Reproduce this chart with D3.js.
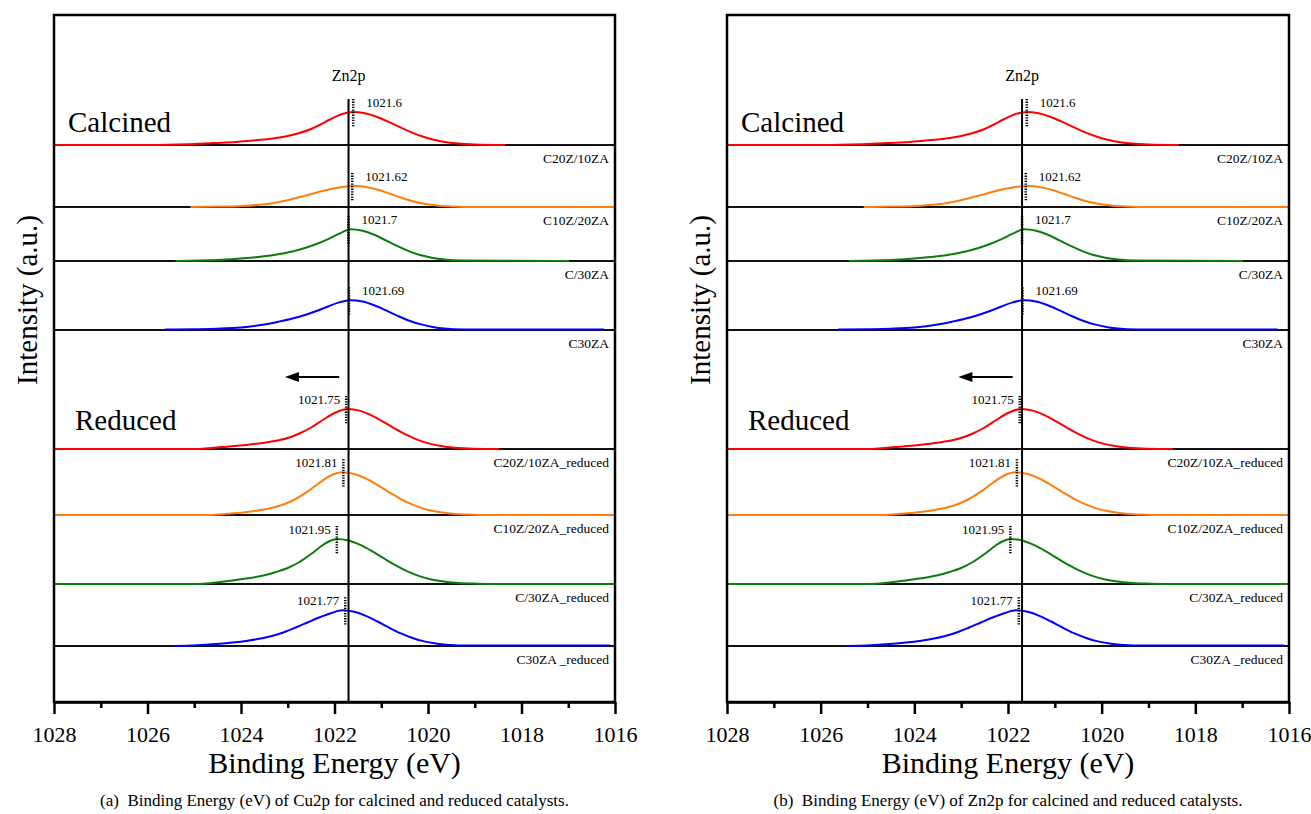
<!DOCTYPE html>
<html>
<head>
<meta charset="utf-8">
<script src="https://cdn.jsdelivr.net/npm/d3@7"></script>
<style>
    body { margin: 0; background: #fff; }
    svg text { font-family: "Liberation Serif", Tinos, "Times New Roman", Times, serif; fill: #000; }
</style>
</head>
<body>
<div class="xps-chart"></div>
<script>
const width = 1311;
const height = 814;

// binding energy axis (eV)
const energyDomain = [1028, 1016];
const majorTicks = [1028, 1026, 1024, 1022, 1020, 1018, 1016];
const minorTicks = [1027, 1025, 1023, 1021, 1019, 1017];

// stacked Zn2p spectra, top to bottom
const sampleNames = [
    "C20Z/10ZA", "C10Z/20ZA", "C/30ZA", "C30ZA",
    "C20Z/10ZA_reduced", "C10Z/20ZA_reduced", "C/30ZA_reduced", "C30ZA _reduced"
];
const peakPositions = [1021.6, 1021.62, 1021.7, 1021.69, 1021.75, 1021.81, 1021.95, 1021.77];
const peakLabels = ["1021.6", "1021.62", "1021.7", "1021.69", "1021.75", "1021.81", "1021.95", "1021.77"];
const stackOffsets = [557, 495, 441, 372, 253, 187, 118, 56];
const referenceEnergy = 1021.7;
const shiftArrow = [1021.9, 1023.06];
const shiftArrowLevel = 325;

// intensity above each offset, [binding energy, a.u.], high to low energy
const calcinedA = [[1028, 0], [1026.2, 0], [1025.6, 0.3], [1025.0, 1], [1024.6, 2], [1024.1, 3], [1023.75, 4.5],
    [1023.4, 6], [1023.0, 9], [1022.75, 12], [1022.5, 16], [1022.3, 20.5], [1022.1, 25.5], [1021.85, 30.8],
    [1021.6, 33], [1021.35, 31.7], [1021.1, 28.3], [1020.85, 23.3], [1020.6, 17.8], [1020.35, 12.6],
    [1020.1, 8.2], [1019.85, 5.0], [1019.6, 2.8], [1019.35, 1.4], [1019.0, 0.5], [1018.35, 0]];
const calcinedB = [[1025.08, 0], [1024.5, 0.4], [1024.0, 1.0], [1023.6, 2.2], [1023.3, 4.0], [1023.05, 6.3],
    [1022.8, 9.2], [1022.55, 12.3], [1022.3, 15.5], [1022.05, 18.2], [1021.8, 20.3], [1021.55, 21],
    [1021.3, 19.8], [1021.05, 17], [1020.8, 13], [1020.55, 9], [1020.3, 5.5], [1020.05, 3.0],
    [1019.8, 1.5], [1019.5, 0.6], [1019.18, 0], [1016, 0]];
const calcinedC = [[1025.4, 0], [1024.5, 1.0], [1023.94, 2.7], [1023.55, 4.5], [1023.2, 6.8], [1022.9, 9.5],
    [1022.65, 12.7], [1022.4, 16.7], [1022.15, 21.7], [1021.9, 27.3], [1021.65, 31.7], [1021.4, 30.2],
    [1021.15, 26.2], [1020.9, 20.6], [1020.65, 14.8], [1020.4, 9.6], [1020.15, 5.7], [1019.9, 3.1],
    [1019.65, 1.5], [1019.25, 0.4], [1016.98, 0]];
const calcinedD = [[1025.63, 0.5], [1025.0, 0.8], [1024.5, 1.3], [1024.0, 2.5], [1023.5, 5.5], [1023.2, 8.3],
    [1022.9, 11.5], [1022.65, 14.8], [1022.4, 18.7], [1022.15, 23.3], [1021.9, 27.6], [1021.65, 29.7],
    [1021.4, 28.4], [1021.15, 24.7], [1020.9, 19.6], [1020.65, 14.2], [1020.4, 9.3], [1020.15, 5.6],
    [1019.9, 3.1], [1019.65, 1.5], [1019.25, 0.6], [1018.5, 0.5], [1016.24, 0.5]];
const reducedA = [[1028, 0], [1025.0, 0], [1024.4, 2], [1023.8, 4.5], [1023.4, 7], [1023.0, 11],
    [1022.75, 15.5], [1022.5, 21.5], [1022.25, 29], [1022.0, 36], [1021.72, 40], [1021.47, 38.4],
    [1021.22, 33.9], [1020.97, 27.6], [1020.72, 20.7], [1020.47, 14.3], [1020.22, 9.1], [1019.97, 5.4],
    [1019.72, 2.9], [1019.42, 1.2], [1019.02, 0.3], [1018.48, 0]];
const reducedB = [[1028, 0], [1024.65, 0], [1024.3, 1.2], [1024.0, 2.3], [1023.6, 4.8], [1023.33, 7.3],
    [1023.08, 10.8], [1022.83, 16], [1022.58, 23.3], [1022.33, 32], [1022.08, 39.5], [1021.83, 42.7],
    [1021.58, 41], [1021.33, 36.5], [1021.08, 29.9], [1020.83, 22.7], [1020.58, 15.9], [1020.33, 10.3],
    [1020.08, 6.1], [1019.83, 3.4], [1019.53, 1.5], [1019.18, 0.5], [1018.87, 0], [1016, 0]];
const reducedC = [[1028, 0], [1024.99, 0], [1024.45, 2], [1024.0, 4.7], [1023.5, 8.8], [1023.25, 12],
    [1023.0, 16], [1022.75, 22], [1022.5, 30], [1022.25, 39], [1022.1, 43], [1021.95, 45], [1021.7, 43.5],
    [1021.45, 39.1], [1021.2, 32.9], [1020.95, 25.8], [1020.7, 18.8], [1020.45, 12.8], [1020.2, 8.1],
    [1019.95, 4.8], [1019.7, 2.7], [1019.35, 1.0], [1018.95, 0.3], [1018.5, 0], [1016, 0]];
const reducedD = [[1025.45, 0], [1024.93, 0.8], [1024.45, 2.3], [1023.9, 5], [1023.36, 9.7], [1023.08, 13.8],
    [1022.83, 18.5], [1022.58, 23.5], [1022.33, 28.5], [1022.08, 32.8], [1021.83, 35.7], [1021.58, 34.2],
    [1021.33, 30.2], [1021.08, 24.5], [1020.83, 18.3], [1020.58, 12.6], [1020.33, 8], [1020.08, 4.6],
    [1019.83, 2.5], [1019.53, 1.0], [1019.13, 0.5], [1018.5, 0.5], [1016.1, 0.5]];
const spectra = [calcinedA, calcinedB, calcinedC, calcinedD, reducedA, reducedB, reducedC, reducedD];

const lineColors = ["#ff0000", "#ff7f0e", "#0a7d0a", "#0000ff", "#ff0000", "#ff7f0e", "#0a7d0a", "#0000ff"];
const serif = "'Liberation Serif', Tinos, 'Times New Roman', Times, serif";

const svg = d3.select(".xps-chart")
    .append("svg")
    .attr("width", width)
    .attr("height", height)
    .attr("font-family", serif);

svg.append("rect").attr("width", width).attr("height", height).attr("fill", "#fff");

const yScale = d3.scaleLinear().domain([0, 687]).range([702, 15]);

function drawPanel(left, right, caption) {
    const x = d3.scaleLinear().domain(energyDomain).range([left, right]);
    const g = svg.append("g");

    // row baselines
    g.selectAll(".baseline")
        .data(stackOffsets)
        .enter()
        .append("line")
        .attr("x1", left).attr("x2", right)
        .attr("y1", (d) => yScale(d)).attr("y2", (d) => yScale(d))
        .attr("stroke", "#111").attr("stroke-width", 2);

    // spectra
    const line = d3.line().curve(d3.curveMonotoneX);
    g.selectAll(".spectrum")
        .data(spectra)
        .enter()
        .append("path")
        .attr("d", (d, i) => line(d.map((p) => [x(p[0]), yScale(stackOffsets[i] + p[1])])))
        .attr("fill", "none")
        .attr("stroke", (d, i) => lineColors[i])
        .attr("stroke-width", 2);

    // reference energy line
    const peakTop = (i) => yScale(stackOffsets[i] + d3.max(spectra[i], (p) => p[1]));
    g.append("line")
        .attr("x1", x(referenceEnergy)).attr("x2", x(referenceEnergy))
        .attr("y1", peakTop(0) - 13).attr("y2", yScale(0))
        .attr("stroke", "#000").attr("stroke-width", 2);

    g.append("text")
        .attr("x", x(referenceEnergy)).attr("y", peakTop(0) - 31)
        .attr("text-anchor", "middle")
        .attr("font-size", 16)
        .text("Zn2p");

    // peak markers and values
    peakPositions.forEach((pos, i) => {
        const top = peakTop(i) - 13;
        g.append("line")
            .attr("x1", x(pos)).attr("x2", x(pos))
            .attr("y1", top).attr("y2", top + 28)
            .attr("stroke", "#000").attr("stroke-width", 2.5)
            .attr("stroke-dasharray", "1.3 1.3");
        const calcined = i < 4;
        g.append("text")
            .attr("x", calcined ? x(pos) + 13 : x(pos) - 6)
            .attr("y", top + 8)
            .attr("text-anchor", calcined ? "start" : "end")
            .attr("font-size", 13)
            .text(peakLabels[i]);
    });

    // sample names below each baseline
    g.selectAll(".sample")
        .data(sampleNames)
        .enter()
        .append("text")
        .attr("x", right - 6)
        .attr("y", (d, i) => yScale(stackOffsets[i]) + 18)
        .attr("text-anchor", "end")
        .attr("font-size", 13.5)
        .text((d) => d);

    // shift arrow
    const ay = yScale(shiftArrowLevel);
    g.append("line")
        .attr("x1", x(shiftArrow[0])).attr("x2", x(shiftArrow[1]) + 10)
        .attr("y1", ay).attr("y2", ay)
        .attr("stroke", "#000").attr("stroke-width", 2);
    g.append("path")
        .attr("d", `M${x(shiftArrow[1])},${ay} l14,-5 l0,10 z`)
        .attr("fill", "#000");

    g.append("text").attr("x", left + 14).attr("y", 132)
        .attr("font-size", 29).text("Calcined");
    g.append("text").attr("x", left + 21).attr("y", 430)
        .attr("font-size", 29).text("Reduced");

    // frame
    g.append("rect")
        .attr("x", left).attr("y", yScale(687))
        .attr("width", right - left).attr("height", yScale(0) - yScale(687))
        .attr("fill", "none").attr("stroke", "#000").attr("stroke-width", 2.5);

    // x axis
    const axis = g.append("g")
        .attr("transform", `translate(0,${yScale(0)})`)
        .call(d3.axisBottom(x).tickValues(majorTicks).tickSize(12).tickSizeOuter(0)
            .tickFormat(d3.format("d")));
    axis.attr("font-family", serif);
    axis.select(".domain").attr("stroke-width", 2.5);
    axis.selectAll(".tick line").attr("stroke-width", 2.5);
    axis.selectAll(".tick text")
        .attr("y", 32).attr("dy", "0.35em")
        .attr("font-size", 22)
        .attr("fill", "#000");

    const minor = g.append("g")
        .attr("transform", `translate(0,${yScale(0)})`)
        .call(d3.axisBottom(x).tickValues(minorTicks).tickSize(6).tickSizeOuter(0).tickFormat(""));
    minor.select(".domain").remove();
    minor.selectAll(".tick line").attr("stroke-width", 2.5);

    g.append("text")
        .attr("x", (left + right) / 2).attr("y", 773)
        .attr("text-anchor", "middle")
        .attr("font-size", 30)
        .text("Binding Energy (eV)");

    g.append("text")
        .attr("transform", `translate(${left - 27},300) rotate(-90)`)
        .attr("text-anchor", "middle")
        .attr("dominant-baseline", "central")
        .attr("font-size", 29)
        .text("Intensity (a.u.)");

    g.append("text")
        .attr("x", (left + right) / 2).attr("y", 806)
        .attr("text-anchor", "middle")
        .attr("font-size", 17)
        .attr("xml:space", "preserve")
        .text(caption);
}

drawPanel(54, 615, "(a)  Binding Energy (eV) of Cu2p for calcined and reduced catalysts.");
drawPanel(727, 1289, "(b)  Binding Energy (eV) of Zn2p for calcined and reduced catalysts.");
</script>
</body>
</html>
